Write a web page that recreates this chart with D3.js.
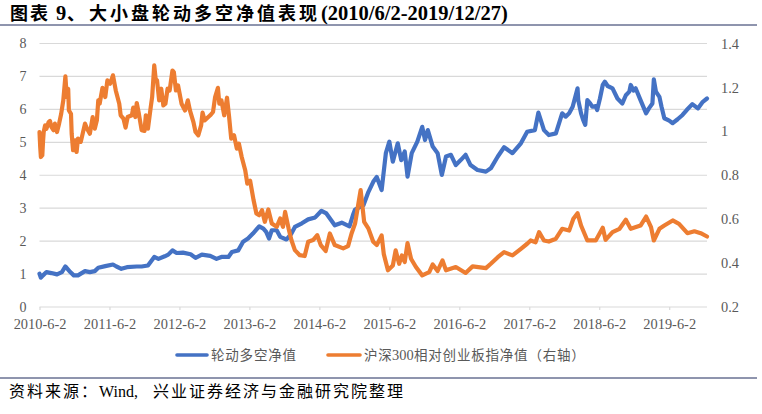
<!DOCTYPE html>
<html>
<head>
<meta charset="utf-8">
<script src="https://cdn.jsdelivr.net/npm/d3@7"></script>
<style>
  html, body { margin: 0; padding: 0; background: #fff; }
  text { font-family: "Liberation Serif", "Noto Sans CJK SC", serif; }
  .domain { display: none; }
</style>
</head>
<body>
<svg id="chart" width="762" height="414"></svg>
<script>
// years since 2010-6-2
const blueYears = [0,.02,.05,.10,.17,.25,.32,.37,.44,.49,.55,.65,.72,.79,.84,.94,1.05,1.10,1.17,1.25,1.39,1.46,1.55,1.64,1.70,1.79,1.84,1.90,1.96,2.05,2.16,2.23,2.32,2.44,2.53,2.60,2.70,2.75,2.84,2.91,2.98,3.05,3.14,3.20,3.24,3.28,3.32,3.39,3.44,3.53,3.60,3.65,3.75,3.84,3.94,4.03,4.10,4.22,4.32,4.43,4.48,4.51,4.63,4.70,4.77,4.82,4.89,4.95,5.00,5.05,5.12,5.17,5.22,5.26,5.32,5.40,5.47,5.51,5.55,5.62,5.69,5.75,5.81,5.88,5.95,6.02,6.09,6.16,6.26,6.38,6.45,6.55,6.64,6.76,6.88,6.97,7.08,7.13,7.21,7.28,7.38,7.47,7.52,7.57,7.62,7.69,7.70,7.74,7.77,7.80,7.83,7.87,7.90,7.95,7.97,8.01,8.05,8.08,8.12,8.19,8.26,8.33,8.38,8.43,8.45,8.49,8.52,8.59,8.67,8.71,8.76,8.78,8.81,8.86,8.89,8.93,9.00,9.05,9.12,9.19,9.25,9.33,9.41,9.48,9.54]
const blueValues = [1.01,.89,.96,1.06,1.03,.99,1.06,1.23,1.06,.96,.96,1.09,1.06,1.09,1.19,1.24,1.29,1.23,1.16,1.21,1.23,1.23,1.26,1.52,1.46,1.54,1.59,1.72,1.64,1.65,1.60,1.49,1.59,1.55,1.46,1.52,1.52,1.67,1.72,1.98,2.08,2.23,2.45,2.38,2.28,2.08,2.33,2.33,2.13,2.05,2.23,2.43,2.54,2.66,2.72,2.92,2.84,2.48,2.56,2.45,2.79,2.96,3.09,3.49,3.80,3.95,3.55,4.67,5.02,4.41,4.97,4.46,4.72,3.96,4.67,5.02,5.47,5.07,5.37,4.87,4.67,4.01,4.57,4.62,4.31,4.46,4.62,4.31,4.16,4.11,4.21,4.57,4.85,4.67,4.97,5.32,5.37,5.90,5.37,5.22,5.27,5.88,5.78,5.88,6.08,6.64,6.28,5.88,5.68,5.53,6.28,6.18,6.08,6.10,5.98,6.33,6.74,6.84,6.71,6.64,6.33,6.18,6.43,6.54,6.74,6.57,6.64,6.28,5.88,6.03,6.18,6.91,6.54,6.38,6.08,5.73,5.66,5.58,5.70,5.83,5.98,6.16,6.03,6.23,6.33]

const orangeYears = [0,.01,.02,.04,.05,.06,.08,.10,.13,.15,.17,.20,.22,.25,.28,.31,.34,.37,.39,.41,.42,.45,.46,.48,.51,.53,.55,.59,.65,.68,.72,.76,.79,.82,.84,.86,.90,.94,.97,1.01,1.05,1.09,1.14,1.16,1.20,1.23,1.26,1.32,1.34,1.37,1.39,1.42,1.46,1.50,1.52,1.55,1.59,1.61,1.64,1.66,1.68,1.71,1.74,1.77,1.80,1.83,1.86,1.90,1.92,1.95,1.98,2.03,2.08,2.12,2.15,2.20,2.23,2.27,2.31,2.33,2.36,2.44,2.48,2.51,2.55,2.57,2.60,2.64,2.68,2.71,2.74,2.78,2.82,2.85,2.89,2.94,2.97,3.01,3.06,3.10,3.14,3.18,3.22,3.27,3.32,3.39,3.44,3.48,3.51,3.56,3.60,3.65,3.72,3.79,3.84,3.91,3.97,4.02,4.09,4.15,4.22,4.34,4.41,4.46,4.51,4.59,4.64,4.70,4.77,4.82,4.89,4.92,4.98,5.05,5.09,5.14,5.18,5.22,5.26,5.31,5.38,5.47,5.57,5.62,5.69,5.76,5.81,5.95,6.09,6.19,6.38,6.45,6.55,6.64,6.76,6.88,6.97,7.02,7.09,7.14,7.21,7.28,7.38,7.47,7.57,7.63,7.69,7.74,7.83,7.95,8.05,8.09,8.19,8.29,8.38,8.45,8.59,8.67,8.74,8.78,8.86,8.93,9.05,9.14,9.26,9.36,9.45,9.54]
const orangeValues = [.997,.929,.883,.891,.952,.997,1.027,1.012,1.042,1.047,1.020,1.005,1.035,.997,1.035,1.080,1.141,1.250,1.156,1.194,1.095,1.080,.989,.914,.959,.906,.967,.952,1.035,1.012,.989,1.065,1.012,1.050,1.141,1.126,1.198,1.156,1.232,1.217,1.255,1.186,1.126,1.073,1.058,1.017,1.065,1.073,1.108,1.065,1.129,1.080,1.005,1.002,1.073,1.012,1.111,1.156,1.300,1.239,1.232,1.141,1.194,1.118,1.126,1.194,1.186,1.277,1.270,1.186,1.209,1.126,1.095,1.141,1.095,1.042,.997,.982,1.027,1.085,1.050,1.073,1.088,1.156,1.198,1.126,1.141,1.073,1.153,1.065,.967,.982,.921,.944,.883,.823,.762,.775,.686,.626,.618,.641,.588,.644,.580,.565,.603,.565,.633,.558,.505,.459,.436,.432,.497,.505,.527,.482,.455,.535,.482,.467,.477,.535,.580,.732,.588,.558,.497,.482,.526,.442,.367,.389,.458,.397,.435,.405,.491,.420,.382,.344,.359,.394,.364,.412,.367,.382,.355,.385,.377,.397,.427,.450,.435,.465,.488,.503,.495,.541,.503,.498,.511,.556,.548,.602,.627,.571,.503,.503,.561,.506,.541,.556,.597,.556,.571,.612,.564,.503,.556,.571,.594,.579,.536,.545,.536,.521]

const xTickYears = [0,1,2,3,4,5,6,7,8,9]
const xTickLabels = ['2010-6-2','2011-6-2','2012-6-2','2013-6-2','2014-6-2','2015-6-2','2016-6-2','2017-6-2','2018-6-2','2019-6-2']
const leftTicks = [0,1,2,3,4,5,6,7,8]
const rightTicks = [0.2,0.4,0.6,0.8,1,1.2,1.4]

const blue = '#4472C4'
const orange = '#ED7D31'
const grey = '#595959'
const navy = '#1F2A5C'

const svg = d3.select('#chart')

const x = d3.scaleLinear().domain([0, 9.54]).range([39.5, 707])
const yLeft = d3.scaleLinear().domain([0, 8]).range([307, 43.5])
const yRight = d3.scaleLinear().domain([0.2, 1.4]).range([307, 43.5])

// one text element split in runs, each run with its own start and spacing
function addRuns(y, size, fill, weight, runs) {
  const t = svg.append('text').attr('y', y).attr('fill', fill).attr('font-weight', weight)
  runs.forEach(r => {
    t.append('tspan').attr('x', r.x)
      .attr('font-size', r.size || size)
      .attr('letter-spacing', r.ls || 0)
      .text(r.s)
  })
}

// title and source
addRuns(20, 18, '#000', 'bold', [
  { x: 10, s: '图表 ', ls: 2 },
  { x: 56, s: '9', size: 20.5 },
  { x: 67, s: '、' },
  { x: 89, s: '大小盘轮动多空净值表现', ls: 3 },
  { x: 321, s: '(2010/6/2-2019/12/27)', size: 20.5 },
])
svg.append('line').attr('x1', 0).attr('x2', 757).attr('y1', 25).attr('y2', 25)
  .attr('stroke', navy).attr('stroke-width', 1)
svg.append('line').attr('x1', 0).attr('x2', 757).attr('y1', 378).attr('y2', 378)
  .attr('stroke', navy).attr('stroke-width', 1)
addRuns(397, 16, '#000', 'normal', [
  { x: 9, s: '资料来源：', ls: 2 },
  { x: 99, s: 'Wind,' },
  { x: 153, s: '兴业证券经济与金融研究院整理', ls: 2 },
])

// grid + left axis
const gLeft = svg.append('g').attr('transform', 'translate(39.5,0)')
  .call(d3.axisLeft(yLeft).tickValues(leftTicks).tickSize(0).tickPadding(13).tickFormat(d3.format('d')))
gLeft.selectAll('text').attr('font-size', 14).attr('fill', grey)
  .style('font-family', '"Liberation Serif"')
svg.append('g').selectAll('line').data(leftTicks).join('line')
  .attr('x1', x.range()[0]).attr('x2', x.range()[1])
  .attr('y1', d => yLeft(d)).attr('y2', d => yLeft(d))
  .attr('stroke', '#D9D9D9').attr('stroke-width', 1.2)

// right axis, labels only
const gRight = svg.append('g').attr('transform', 'translate(721,0)')
  .call(d3.axisRight(yRight).tickValues(rightTicks).tickSize(0).tickPadding(0).tickFormat(d => d))
gRight.selectAll('text').attr('font-size', 14.4).attr('fill', grey)
  .style('font-family', '"Liberation Serif"')

// bottom axis
const gBottom = svg.append('g').attr('transform', 'translate(0,307)')
  .call(d3.axisBottom(x).tickValues(xTickYears).tickSize(3).tickPadding(9)
    .tickFormat((d, i) => xTickLabels[i]))
gBottom.selectAll('line').attr('stroke', '#D9D9D9').attr('stroke-width', 1.2)
gBottom.selectAll('text').attr('font-size', 14.4).attr('fill', grey)
  .style('font-family', '"Liberation Serif"')

// series
const lineBlue = d3.line().x((d, i) => x(blueYears[i])).y(d => yLeft(d))
const lineOrange = d3.line().x((d, i) => x(orangeYears[i])).y(d => yRight(d))

svg.append('path').datum(blueValues).attr('d', lineBlue)
  .attr('fill', 'none').attr('stroke', blue).attr('stroke-width', 4.2)
  .attr('stroke-linejoin', 'round').attr('stroke-linecap', 'round')
svg.append('path').datum(orangeValues).attr('d', lineOrange)
  .attr('fill', 'none').attr('stroke', orange).attr('stroke-width', 4.2)
  .attr('stroke-linejoin', 'round').attr('stroke-linecap', 'round')

// legend
const legendY = 355
svg.append('line').attr('x1', 177).attr('x2', 207).attr('y1', legendY).attr('y2', legendY)
  .attr('stroke', blue).attr('stroke-width', 3.6).attr('stroke-linecap', 'round')
addRuns(legendY + 5, 13.5, grey, 'normal', [
  { x: 211, s: '轮动多空净值', ls: 0.8 },
])
svg.append('line').attr('x1', 328).attr('x2', 360).attr('y1', legendY).attr('y2', legendY)
  .attr('stroke', orange).attr('stroke-width', 3.6).attr('stroke-linecap', 'round')
addRuns(legendY + 5, 13.5, grey, 'normal', [
  { x: 364, s: '沪深', ls: 0.8 },
  { x: 392, s: '300', size: 14.4 },
  { x: 414, s: '相对创业板指净值（右轴）', ls: 0.8 },
])
</script>
</body>
</html>
